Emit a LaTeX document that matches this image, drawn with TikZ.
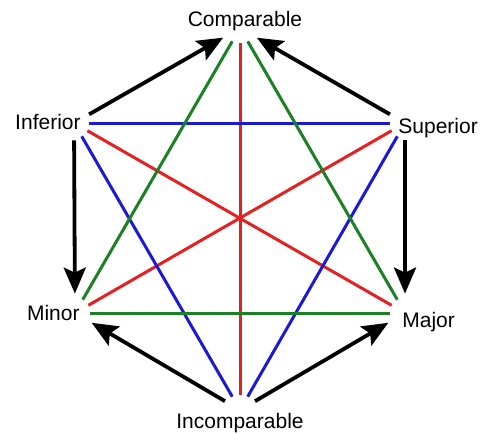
\documentclass[tikz,border=0pt]{standalone}
\usepackage{fontspec}
\setmainfont{Liberation Sans}
\usetikzlibrary{arrows.meta}

\definecolor{hexred}{RGB}{228,32,32}
\definecolor{hexgreen}{RGB}{28,128,36}
\definecolor{hexblue}{RGB}{26,26,214}

\begin{document}
\begin{tikzpicture}[
  x=0.5pt, y=-0.5pt,
  vtx/.style={circle, inner sep=0pt, minimum size=15pt},
  lbl/.style={inner sep=0pt, font=\fontsize{10.5}{12}\selectfont},
  diag/.style={line width=1.5pt},
  side/.style={draw, line width=1.9pt, -{Stealth[length=13pt, width=11pt, inset=2.5pt]}, shorten <=1pt, shorten >=2pt}
]
  \useasboundingbox (0,0) rectangle (480,433);
  % corners of the hexagon
  \node[vtx] (cmp) at (240,28) {};
  \node[vtx] (inf) at (74,123) {};
  \node[vtx] (sup) at (405,123) {};
  \node[vtx] (min) at (75,313) {};
  \node[vtx] (maj) at (405,313) {};
  \node[vtx] (inc) at (240,410) {};
  % labels
  \node[lbl, anchor=base] (cmpl) at (245,27) {Comparable};
  \node[lbl, anchor=base east] (infl) at (81,129) {Inferior};
  \node[lbl, anchor=base west] (supl) at (398,133) {Superior};
  \node[lbl, anchor=base east] (minl) at (80,320) {Minor};
  \node[lbl, anchor=base west] (majl) at (402,327) {Major};
  \node[lbl, anchor=base] (incl) at (240,428) {Incomparable};
  % diagonals
  \draw[diag, hexred] (cmp) -- (inc);
  \draw[diag, hexred] (inf) -- (maj);
  \draw[diag, hexred] (sup) -- (min);
  \draw[diag, hexblue] (inf) -- (sup);
  \draw[diag, hexblue] (inf) -- (inc);
  \draw[diag, hexblue] (sup) -- (inc);
  \draw[diag, hexgreen] (cmp) -- (min);
  \draw[diag, hexgreen] (cmp) -- (maj);
  \draw[diag, hexgreen] (min) -- (maj);
  % sides
  \draw[side] (inf) -- (cmp);
  \draw[side] (sup) -- (cmp);
  \draw[side] (inf) -- (min);
  \draw[side] (sup) -- (maj);
  \draw[side] (inc) -- (min);
  \draw[side] (inc) -- (maj);
\end{tikzpicture}
\end{document}
